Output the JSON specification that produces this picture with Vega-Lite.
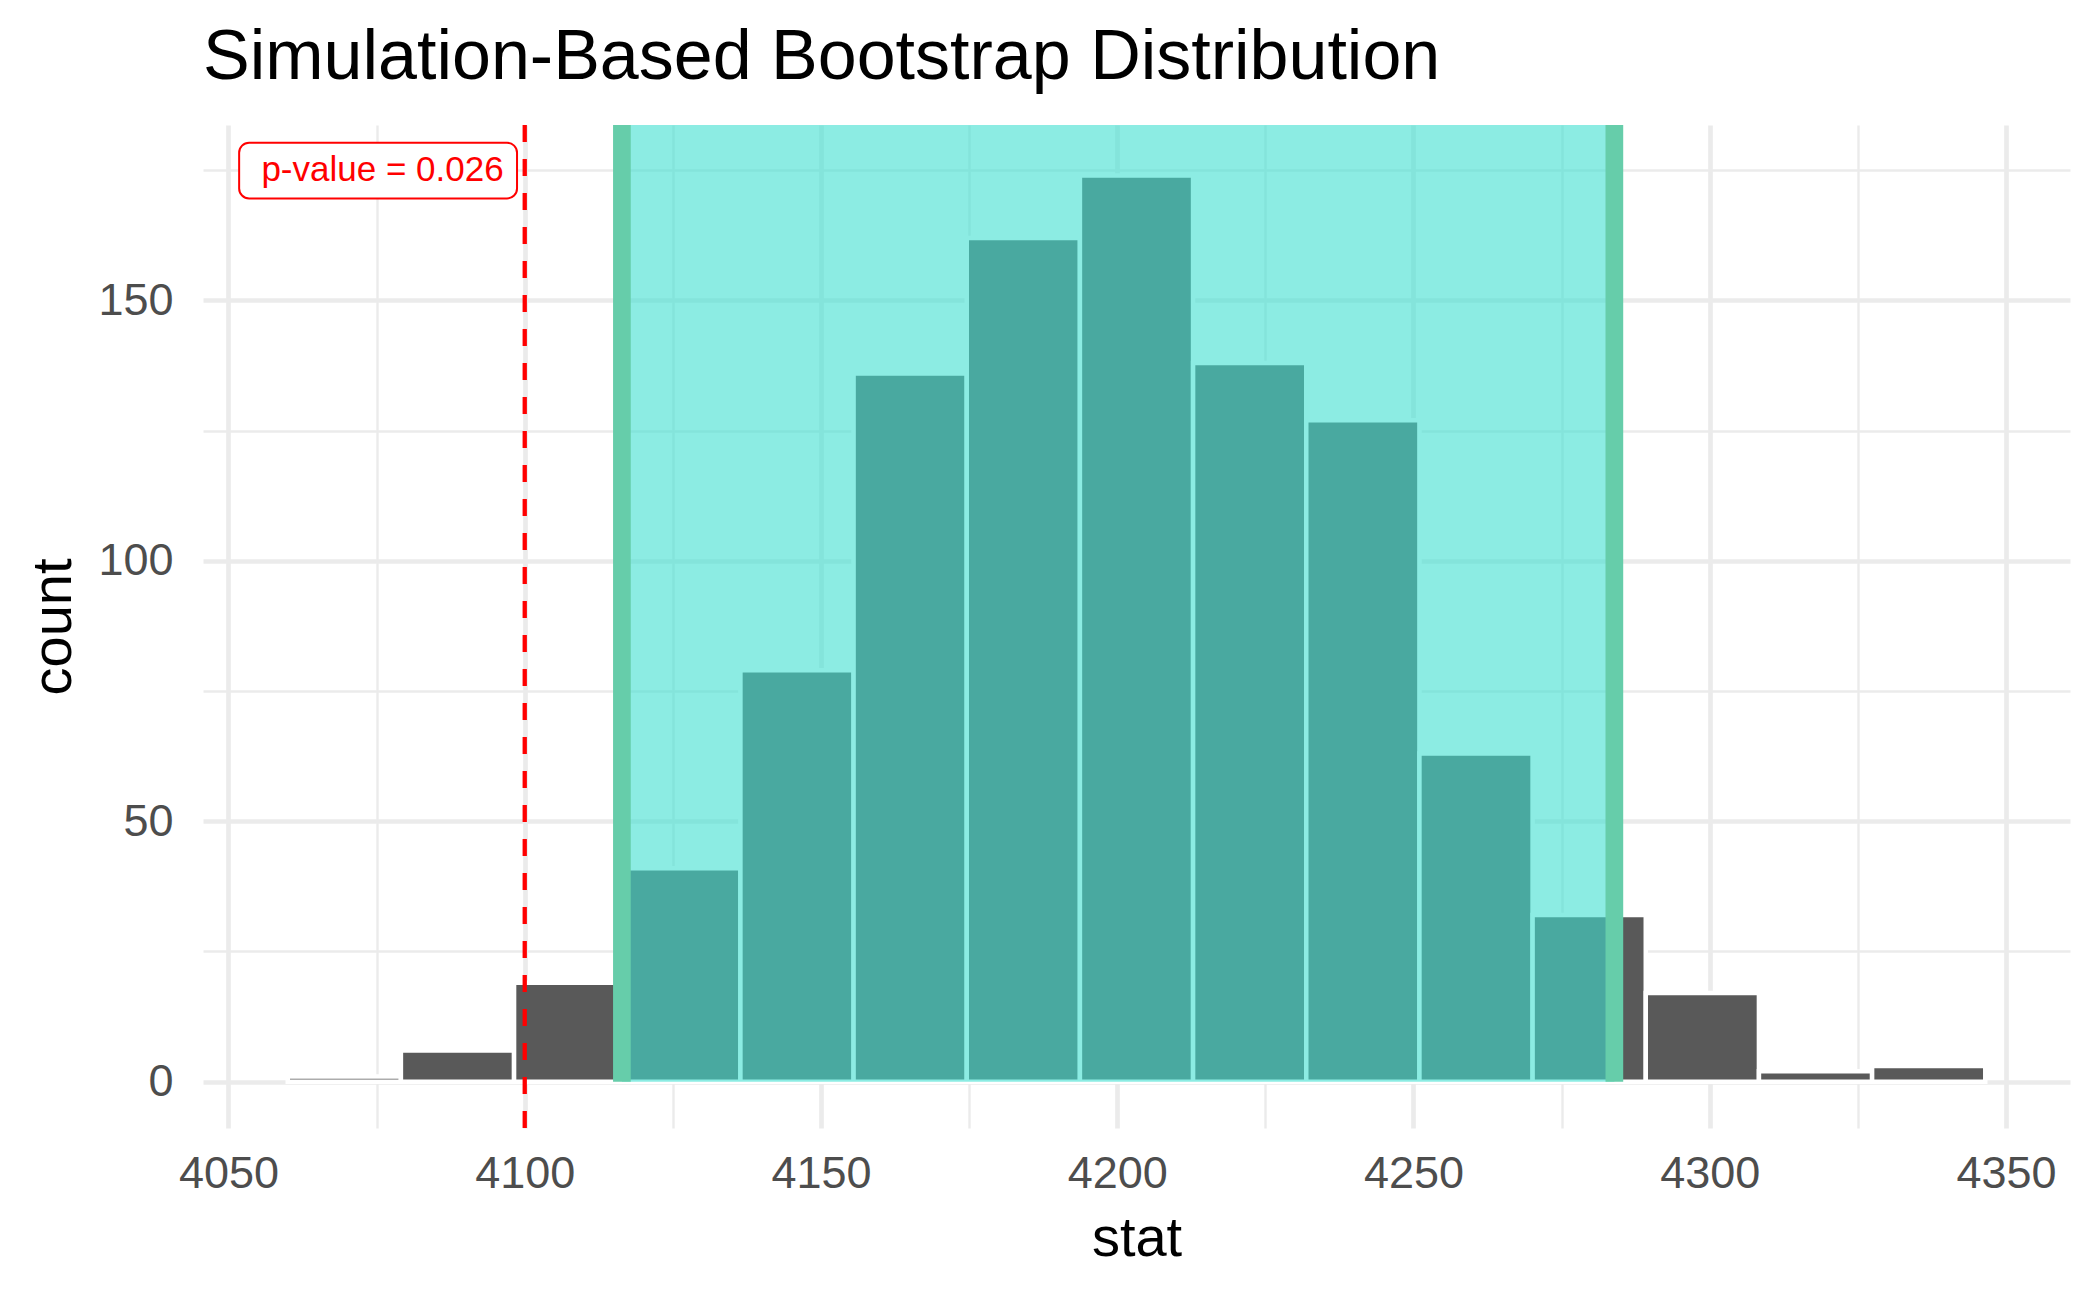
{
  "$schema": "https://vega.github.io/schema/vega-lite/v6.json",
  "width": 1867,
  "height": 1003,
  "autosize": "none",
  "padding": {"left": 203, "top": 125, "right": 30, "bottom": 169},
  "background": "white",
  "title": {
    "text": "Simulation-Based Bootstrap Distribution",
    "anchor": "start",
    "frame": "group",
    "font": "Liberation Sans",
    "fontSize": 70,
    "fontWeight": "normal",
    "color": "black",
    "baseline": "alphabetic",
    "offset": 45,
    "dy": 78
  },
  "config": {
    "view": {"stroke": null},
    "font": "Liberation Sans"
  },
  "datasets": {
    "bins": [
      {"bin_start": 4060.0, "bin_end": 4079.1, "count": 1},
      {"bin_start": 4079.1, "bin_end": 4098.2, "count": 6},
      {"bin_start": 4098.2, "bin_end": 4117.3, "count": 19},
      {"bin_start": 4117.3, "bin_end": 4136.4, "count": 41},
      {"bin_start": 4136.4, "bin_end": 4155.5, "count": 79},
      {"bin_start": 4155.5, "bin_end": 4174.6, "count": 136},
      {"bin_start": 4174.6, "bin_end": 4193.7, "count": 162},
      {"bin_start": 4193.7, "bin_end": 4212.8, "count": 174},
      {"bin_start": 4212.8, "bin_end": 4231.9, "count": 138},
      {"bin_start": 4231.9, "bin_end": 4251.0, "count": 127},
      {"bin_start": 4251.0, "bin_end": 4270.1, "count": 63},
      {"bin_start": 4270.1, "bin_end": 4289.2, "count": 32},
      {"bin_start": 4289.2, "bin_end": 4308.3, "count": 17},
      {"bin_start": 4308.3, "bin_end": 4327.4, "count": 2},
      {"bin_start": 4327.4, "bin_end": 4346.5, "count": 3}
    ],
    "ci": [{"lower": 4116.4, "upper": 4283.9}],
    "ci_bounds": [{"bound": 4116.4}, {"bound": 4283.9}],
    "obs": [{"stat": 4100}],
    "label": [{"x": 4076, "y": 175, "text": "p-value = 0.026", "bx1": 4051.8, "bx2": 4098.7, "by1": 169.6, "by2": 180.3}]
  },
  "layer": [
    {
      "data": {"name": "bins"},
      "mark": {"type": "rect", "fill": "#595959", "stroke": "white", "strokeWidth": 4.5},
      "encoding": {
        "x": {
          "field": "bin_start", "type": "quantitative",
          "scale": {"domain": [4045.7, 4360.8], "nice": false, "zero": false},
          "axis": {
            "values": [4050, 4075, 4100, 4125, 4150, 4175, 4200, 4225, 4250, 4275, 4300, 4325, 4350],
            "format": "d",
            "labelExpr": "datum.value % 50 === 0 ? datum.label : ''",
            "title": "stat",
            "grid": true,
            "gridColor": "#EBEBEB",
            "gridWidth": {"condition": {"test": "datum.value % 50 === 0", "value": 4.7}, "value": 2.4},
            "domain": false,
            "ticks": false,
            "tickSize": 0,
            "labelFont": "Liberation Sans",
            "labelFontSize": 45,
            "labelColor": "#4D4D4D",
            "labelBaseline": "alphabetic",
            "labelPadding": 59,
            "labelFlush": false,
            "labelOverlap": false,
            "titleFont": "Liberation Sans",
            "titleFontSize": 56,
            "titleFontWeight": "normal",
            "titleColor": "black",
            "titleBaseline": "alphabetic",
            "titleY": 127
          }
        },
        "x2": {"field": "bin_end"},
        "y": {
          "field": "count", "type": "quantitative",
          "scale": {"domain": [-8.9, 183.7], "nice": false, "zero": false},
          "axis": {
            "values": [0, 25, 50, 75, 100, 125, 150, 175],
            "labelExpr": "datum.value % 50 === 0 ? datum.label : ''",
            "title": "count",
            "grid": true,
            "gridColor": "#EBEBEB",
            "gridWidth": {"condition": {"test": "datum.value % 50 === 0", "value": 4.7}, "value": 2.4},
            "domain": false,
            "ticks": false,
            "tickSize": 0,
            "labelFont": "Liberation Sans",
            "labelFontSize": 45,
            "labelColor": "#4D4D4D",
            "labelPadding": 30,
            "labelBaseline": "middle",
            "labelOverlap": false,
            "titleFont": "Liberation Sans",
            "titleFontSize": 56,
            "titleFontWeight": "normal",
            "titleColor": "black",
            "titleBaseline": "alphabetic",
            "titleAngle": 270,
            "titleX": -133,
            "titleY": 501.5
          }
        },
        "y2": {"datum": 0}
      }
    },
    {
      "data": {"name": "ci"},
      "mark": {"type": "rect", "fill": "#40E0D0", "opacity": 0.6},
      "encoding": {
        "x": {"field": "lower", "type": "quantitative"},
        "x2": {"field": "upper"},
        "y": {"datum": 183.7, "type": "quantitative"},
        "y2": {"datum": 0}
      }
    },
    {
      "data": {"name": "ci_bounds"},
      "mark": {"type": "rule", "color": "#66CDAA", "strokeWidth": 17.7},
      "encoding": {
        "x": {"field": "bound", "type": "quantitative"},
        "y": {"datum": 183.7, "type": "quantitative"},
        "y2": {"datum": 0}
      }
    },
    {
      "data": {"name": "obs"},
      "mark": {"type": "rule", "color": "#FF0000", "strokeWidth": 4.3, "strokeDash": [17, 17]},
      "encoding": {
        "x": {"field": "stat", "type": "quantitative"}
      }
    },
    {
      "data": {"name": "label"},
      "mark": {"type": "rect", "fill": "white", "stroke": "#FF0000", "strokeWidth": 2, "cornerRadius": 10},
      "encoding": {
        "x": {"field": "bx1", "type": "quantitative"},
        "x2": {"field": "bx2"},
        "y": {"field": "by2", "type": "quantitative"},
        "y2": {"field": "by1"}
      }
    },
    {
      "data": {"name": "label"},
      "mark": {"type": "text", "color": "#FF0000", "fontSize": 35, "font": "Liberation Sans", "align": "center", "baseline": "middle"},
      "encoding": {
        "x": {"field": "x", "type": "quantitative"},
        "y": {"field": "y", "type": "quantitative"},
        "text": {"field": "text"}
      }
    }
  ]
}
